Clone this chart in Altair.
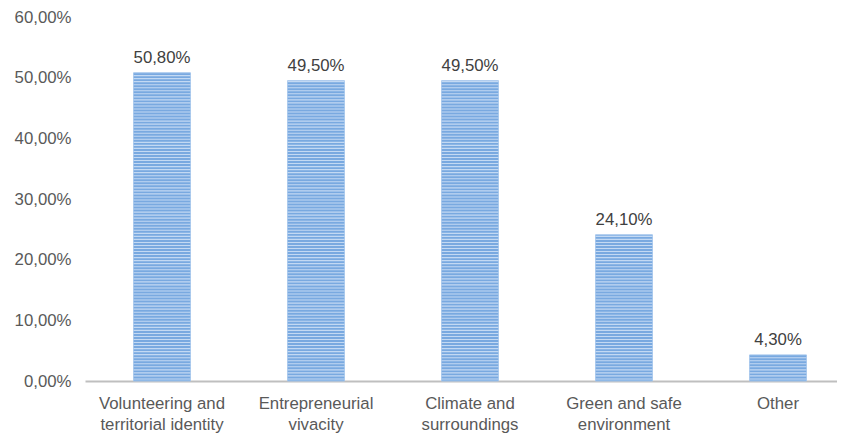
import altair as alt
import pandas as pd
import numpy as np

categories = ["Volunteering and|territorial identity", "Entrepreneurial|vivacity",
              "Climate and|surroundings", "Green and safe|environment", "Other"]
values = [0.508, 0.495, 0.495, 0.241, 0.043]
y_ticks = [0, 0.1, 0.2, 0.3, 0.4, 0.5, 0.6]

df = pd.DataFrame({"cat": categories, "val": values})
df["lab"] = [f"{v*100:.2f}%".replace(".", ",") for v in values]

# light stripes inside each bar, one every 0.5 % of its height
rows = []
for c, v in zip(categories, values):
    for lv in np.arange(0.0025, v - 0.001, 0.005):
        rows.append({"cat": c, "s0": lv, "s1": lv + 0.0018})
stripes = pd.DataFrame(rows)

font = "Liberation Sans"
fs = 16.8
xscale = alt.Scale(paddingInner=0.63, paddingOuter=0.2565, align=0.614)
xenc = alt.X("cat:N", sort=categories, title=None, scale=xscale,
             axis=alt.Axis(labelExpr="split(datum.label, '|')", labelAngle=0,
                           labelFont=font, labelFontSize=fs, labelColor="#595959",
                           labelLineHeight=21, labelPadding=14, ticks=False,
                           domainColor="#BFBFBF", domainWidth=2))
yscale = alt.Scale(domain=[0, 0.6])

bars = alt.Chart(df).mark_bar(color="#79A9E0", stroke="#A5C6EC", strokeWidth=1).encode(
    x=xenc,
    y=alt.Y("val:Q", scale=yscale, title=None,
            axis=alt.Axis(values=y_ticks, grid=False, domain=False, ticks=False,
                          labelExpr="replace(format(datum.value, '.2%'), '.', ',')",
                          labelFont=font, labelFontSize=fs, labelColor="#595959",
                          labelPadding=14)),
)

stripe_layer = alt.Chart(stripes).mark_bar(color="#C3D9F3").encode(
    x=alt.X("cat:N", sort=categories),
    y=alt.Y("s0:Q", scale=yscale),
    y2="s1:Q",
)

text = alt.Chart(df).mark_text(dy=-15, font=font, fontSize=fs, color="#404040").encode(
    x=alt.X("cat:N", sort=categories),
    y=alt.Y("val:Q", scale=yscale),
    text="lab:N",
)

chart = alt.layer(bars, stripe_layer, text).properties(
    width=752, height=364,
    autosize=alt.AutoSizeParams(type="none"),
    padding={"left": 77, "top": 9, "right": 0, "bottom": 54},
).configure_view(stroke=None)

chart.save("out.html", embed_options={"renderer": "svg", "actions": False})
